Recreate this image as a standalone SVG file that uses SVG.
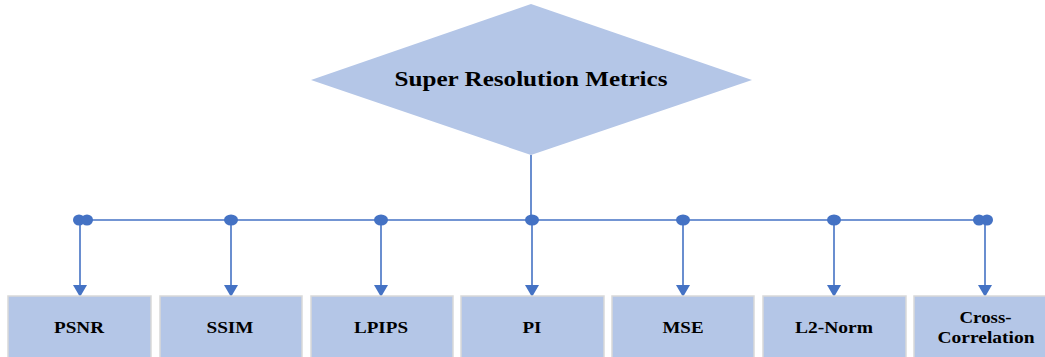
<svg xmlns="http://www.w3.org/2000/svg" width="1045" height="357" viewBox="0 0 1045 357">
  <style>
    .node { fill: #b4c6e7; stroke: #d9d9d9; stroke-width: 1.5; }
    .root { fill: #b4c6e7; stroke: none; }
    .label { font-family: "Liberation Serif", "Times New Roman", serif; font-weight: bold; font-size: 17px; fill: #000; text-anchor: middle; }
    .title { font-size: 22px; }
    .wire { stroke: #4472c4; stroke-width: 1.6; fill: none; }
    .dot, .head { fill: #4472c4; }
  </style>
  <defs>
    <!-- arrowhead pointing down, tip at origin -->
    <path id="tip" d="M-7,-12 L7,-12 L0,0 Z"/>
  </defs>

  <g id="root">
    <polygon class="root" points="531,4 752,80 531,155 311,80"/>
    <text class="label title" x="531" y="86" textLength="273" lengthAdjust="spacingAndGlyphs">Super Resolution Metrics</text>
  </g>

  <g id="connectors">
    <line class="wire" x1="531" y1="155" x2="531" y2="220"/>
    <line class="wire" x1="80" y1="220" x2="985" y2="220"/>
    <ellipse class="dot" cx="79" cy="220" rx="6" ry="5.5"/>
    <ellipse class="dot" cx="87" cy="220" rx="6" ry="5.5"/>
    <ellipse class="dot" cx="231" cy="220" rx="7" ry="5.5"/>
    <ellipse class="dot" cx="381" cy="220" rx="7" ry="5.5"/>
    <ellipse class="dot" cx="532" cy="220" rx="7" ry="5.5"/>
    <ellipse class="dot" cx="683" cy="220" rx="7" ry="5.5"/>
    <ellipse class="dot" cx="834" cy="220" rx="7" ry="5.5"/>
    <ellipse class="dot" cx="979" cy="220" rx="6" ry="5.5"/>
    <ellipse class="dot" cx="987" cy="220" rx="6" ry="5.5"/>
    <line class="wire" x1="80" y1="220" x2="80" y2="286"/>
    <line class="wire" x1="231" y1="220" x2="231" y2="286"/>
    <line class="wire" x1="381" y1="220" x2="381" y2="286"/>
    <line class="wire" x1="532" y1="220" x2="532" y2="286"/>
    <line class="wire" x1="683" y1="220" x2="683" y2="286"/>
    <line class="wire" x1="834" y1="220" x2="834" y2="286"/>
    <line class="wire" x1="985" y1="220" x2="985" y2="286"/>
    <use class="head" href="#tip" x="80" y="297"/>
    <use class="head" href="#tip" x="231" y="297"/>
    <use class="head" href="#tip" x="381" y="297"/>
    <use class="head" href="#tip" x="532" y="297"/>
    <use class="head" href="#tip" x="683" y="297"/>
    <use class="head" href="#tip" x="834" y="297"/>
    <use class="head" href="#tip" x="985" y="297"/>
  </g>

  <g id="psnr">
    <rect class="node" x="8" y="296" width="143" height="66"/>
    <text class="label" x="79" y="333" textLength="50" lengthAdjust="spacingAndGlyphs">PSNR</text>
  </g>
  <g id="ssim">
    <rect class="node" x="160" y="296" width="142" height="66"/>
    <text class="label" x="230" y="333" textLength="47" lengthAdjust="spacingAndGlyphs">SSIM</text>
  </g>
  <g id="lpips">
    <rect class="node" x="311" y="296" width="142" height="66"/>
    <text class="label" x="381" y="333" textLength="54" lengthAdjust="spacingAndGlyphs">LPIPS</text>
  </g>
  <g id="pi">
    <rect class="node" x="461" y="296" width="143" height="66"/>
    <text class="label" x="532" y="333" textLength="19" lengthAdjust="spacingAndGlyphs">PI</text>
  </g>
  <g id="mse">
    <rect class="node" x="612" y="296" width="142" height="66"/>
    <text class="label" x="683" y="333" textLength="41" lengthAdjust="spacingAndGlyphs">MSE</text>
  </g>
  <g id="l2norm">
    <rect class="node" x="763" y="296" width="143" height="66"/>
    <text class="label" x="834" y="333" textLength="78" lengthAdjust="spacingAndGlyphs">L2-Norm</text>
  </g>
  <g id="crosscorr">
    <rect class="node" x="914" y="296" width="143" height="66"/>
    <text class="label" x="985.5" y="323" textLength="52" lengthAdjust="spacingAndGlyphs">Cross-</text>
    <text class="label" x="986" y="343" textLength="97" lengthAdjust="spacingAndGlyphs">Correlation</text>
  </g>
</svg>
